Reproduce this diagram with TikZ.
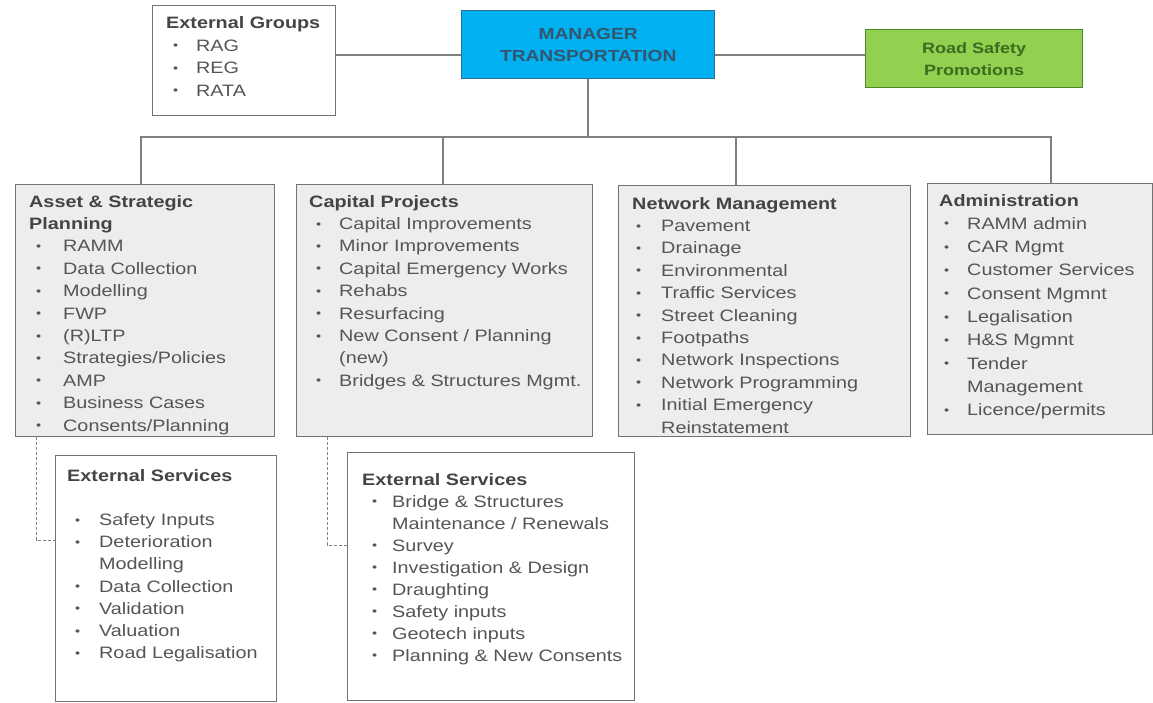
\documentclass[tikz,border=0pt]{standalone}
\usepackage{fontspec}
\setmainfont{Liberation Sans}[FakeStretch=1.2]
\usetikzlibrary{calc}
\definecolor{boxfill}{HTML}{EDEDED}
\definecolor{bordc}{HTML}{737373}
\definecolor{connc}{HTML}{7F7F7F}
\definecolor{txtc}{HTML}{555555}
\definecolor{hdrc}{HTML}{444444}
\definecolor{mgrfill}{HTML}{00B0F0}
\definecolor{mgrbord}{HTML}{2A6F90}
\definecolor{mgrtxt}{HTML}{33566E}
\definecolor{rspfill}{HTML}{92D050}
\definecolor{rspbord}{HTML}{4E8A2A}
\definecolor{rsptxt}{HTML}{3B6B20}
\newcommand{\bul}{\raisebox{1.4pt}{\fontsize{12}{12}\selectfont\textbullet}}
\newcommand{\li}[3]{\hspace*{#1pt}\makebox[#2pt][l]{\bul}#3}
\newcommand{\lc}[3]{\hspace*{#1pt}\hspace*{#2pt}#3}
\newcommand{\hd}[1]{\textbf{\color{hdrc}#1}}
\begin{document}
\begin{tikzpicture}[x=1pt,y=-1pt,
  gbox/.style={draw=bordc, line width=1.4pt, fill=boxfill, inner sep=0pt, anchor=north west},
  wbox/.style={draw=bordc, line width=1.4pt, fill=white, inner sep=0pt, anchor=north west},
  txt/.style={anchor=base west, align=left, inner sep=0pt, text=txtc, font=\fontsize{16.5}{22.4}\selectfont},
  conn/.style={draw=connc, line width=1.9pt},
  dconn/.style={draw=connc, line width=1pt, dash pattern=on 3pt off 2pt}]
\useasboundingbox (0,0) rectangle (1153,703);
\fill[white] (0,0) rectangle (1153,703);

% top row
\node[wbox, minimum width=183pt, minimum height=110pt] (extg) at (152,5) {};
\node[draw=mgrbord, line width=1.4pt, fill=mgrfill, minimum width=253pt, minimum height=68pt, anchor=north west,
      align=center, text=mgrtxt, font=\fontsize{16}{22}\selectfont\bfseries] (mgr) at (461,10) {MANAGER\\TRANSPORTATION};
\node[draw=rspbord, line width=1.4pt, fill=rspfill, minimum width=217pt, minimum height=58pt, anchor=north west,
      align=center, text=rsptxt, font=\fontsize{15}{22}\selectfont\bfseries] (rsp) at (865,29) {Road Safety\\Promotions};

% main boxes
\node[gbox, minimum width=259pt, minimum height=252pt] (asset) at (15,184) {};
\node[gbox, minimum width=296pt, minimum height=252pt] (cap) at (296,184) {};
\node[gbox, minimum width=292pt, minimum height=251pt] (net) at (618,185) {};
\node[gbox, minimum width=225pt, minimum height=251pt] (adm) at (927,183) {};
\node[wbox, minimum width=221pt, minimum height=246pt] (ext1) at (55,455) {};
\node[wbox, minimum width=287pt, minimum height=248pt] (ext2) at (347,452) {};

% connectors
\coordinate (hl) at (0,55);
\coordinate (bus) at (588,137);
\coordinate (d1) at (0,540);
\coordinate (d2) at (0,545);
\draw[conn] (extg.east |- hl) -- (mgr.west |- hl);
\draw[conn] (mgr.east |- hl) -- (rsp.west |- hl);
\draw[conn] (mgr.south) -- (mgr.south |- bus);
\draw[conn] (bus) -| ([xshift=-4.5pt]asset.north);
\draw[conn] (bus) -| ([xshift=-2pt]cap.north);
\draw[conn] (bus) -| ([xshift=-29pt]net.north);
\draw[conn] (bus) -| ([xshift=10.5pt]adm.north);
\draw[dconn] ([xshift=21pt]asset.south west) |- (ext1.west |- d1);
\draw[dconn] ([xshift=31pt]cap.south west) |- (ext2.west |- d2);

% texts (anchored at the baseline of the last line)
\node[txt] (extgT) at (166,96.2) {\hd{External Groups}\\
  \li{7}{23}{RAG}\\ \li{7}{23}{REG}\\ \li{7}{23}{RATA}};

\node[txt] (assetT) at (29,431) {\hd{Asset \& Strategic}\\ \hd{Planning}\\
  \li{7}{27}{RAMM}\\ \li{7}{27}{Data Collection}\\ \li{7}{27}{Modelling}\\
  \li{7}{27}{FWP}\\ \li{7}{27}{(R)LTP}\\ \li{7}{27}{Strategies/Policies}\\
  \li{7}{27}{AMP}\\ \li{7}{27}{Business Cases}\\ \li{7}{27}{Consents/Planning}};

\node[txt] (capT) at (309,386.2) {\hd{Capital Projects}\\
  \li{7}{23}{Capital Improvements}\\ \li{7}{23}{Minor Improvements}\\
  \li{7}{23}{Capital Emergency Works}\\ \li{7}{23}{Rehabs}\\ \li{7}{23}{Resurfacing}\\
  \li{7}{23}{New Consent / Planning}\\ \lc{7}{23}{(new)}\\
  \li{7}{23}{Bridges \& Structures Mgmt.}};

\node[txt] (netT) at (632,433) {\hd{Network Management}\\
  \li{4}{25}{Pavement}\\ \li{4}{25}{Drainage}\\ \li{4}{25}{Environmental}\\
  \li{4}{25}{Traffic Services}\\ \li{4}{25}{Street Cleaning}\\ \li{4}{25}{Footpaths}\\
  \li{4}{25}{Network Inspections}\\ \li{4}{25}{Network Programming}\\
  \li{4}{25}{Initial Emergency}\\ \lc{4}{25}{Reinstatement}};

\node[txt, font=\fontsize{16.5}{23.3}\selectfont] (admT) at (939,415.7) {\hd{Administration}\\
  \li{5}{23}{RAMM admin}\\ \li{5}{23}{CAR Mgmt}\\ \li{5}{23}{Customer Services}\\
  \li{5}{23}{Consent Mgmnt}\\ \li{5}{23}{Legalisation}\\ \li{5}{23}{H\&S Mgmnt}\\
  \li{5}{23}{Tender}\\ \lc{5}{23}{Management}\\ \li{5}{23}{Licence/permits}};

\node[txt, font=\fontsize{16.5}{22.2}\selectfont] (ext1T) at (67,658.6) {\hd{External Services}\\[22.2pt]
  \li{8}{24}{Safety Inputs}\\ \li{8}{24}{Deterioration}\\ \lc{8}{24}{Modelling}\\
  \li{8}{24}{Data Collection}\\ \li{8}{24}{Validation}\\ \li{8}{24}{Valuation}\\
  \li{8}{24}{Road Legalisation}};

\node[txt, font=\fontsize{16.5}{22}\selectfont] (ext2T) at (362,661) {\hd{External Services}\\
  \li{10}{20}{Bridge \& Structures}\\ \lc{10}{20}{Maintenance / Renewals}\\
  \li{10}{20}{Survey}\\ \li{10}{20}{Investigation \& Design}\\ \li{10}{20}{Draughting}\\
  \li{10}{20}{Safety inputs}\\ \li{10}{20}{Geotech inputs}\\ \li{10}{20}{Planning \& New Consents}};
\end{tikzpicture}
\end{document}
